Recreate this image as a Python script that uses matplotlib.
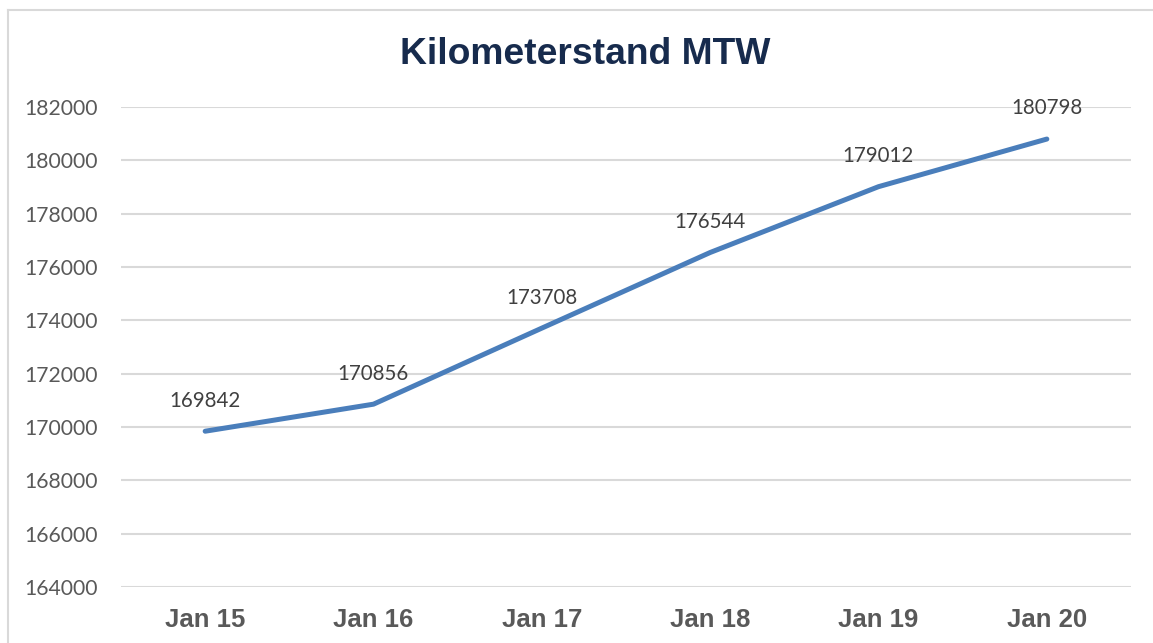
import matplotlib
matplotlib.use("Agg")
import matplotlib.pyplot as plt
from matplotlib.lines import Line2D

# data
dates = ["Jan 15", "Jan 16", "Jan 17", "Jan 18", "Jan 19", "Jan 20"]
km = [169842, 170856, 173708, 176544, 179012, 180798]
yticks = [164000, 166000, 168000, 170000, 172000, 174000, 176000, 178000, 180000, 182000]

fig = plt.figure(figsize=(11.53, 6.43), dpi=100)
W, H = 1153, 643
# plot area in pixels: x 121..1131, y 107 (182000) .. 587 (164000)
ax = fig.add_axes([121 / W, 1 - 587 / H, 1010 / W, 480 / H])

x = list(range(len(dates)))
ax.plot(x, km, color="#4A7EBB", lw=3.6, solid_capstyle="round", solid_joinstyle="round", zorder=3)
for xi, v in zip(x, km):
    ax.annotate(str(v), (xi, v), xytext=(0, 22), textcoords="offset points",
                ha="center", va="center", fontsize=14.8, family="Lato", color="#404040")

ax.set_xlim(-0.5, len(dates) - 0.5)
ax.set_ylim(164000, 182000)
ax.set_yticks(yticks)
ax.set_yticklabels([str(t) for t in yticks], family="Lato", fontsize=15.2, color="#595959")
ax.set_xticks(x)
ax.set_xticklabels(dates, family="Liberation Sans", fontweight="bold", fontsize=18.5, color="#595959")
ax.tick_params(axis="both", length=0)
ax.tick_params(axis="y", pad=16.5)
ax.tick_params(axis="x", pad=15)
ax.grid(axis="y", color="#D9D9D9", lw=1.5)
ax.set_axisbelow(True)
for s in ax.spines.values():
    s.set_visible(False)

fig.text(585 / W, 1 - 54 / H, "Kilometerstand MTW", ha="center", va="center",
         family="Liberation Sans", fontweight="bold", fontsize=26.8, color="#172B4D")

# chart frame
fig.add_artist(Line2D([8 / W, 8 / W], [0, 1 - 10 / H], transform=fig.transFigure, color="#D9D9D9", lw=1.5))
fig.add_artist(Line2D([8 / W, 1], [1 - 10 / H, 1 - 10 / H], transform=fig.transFigure, color="#D9D9D9", lw=1.5))

fig.savefig("out.png", dpi=100)
